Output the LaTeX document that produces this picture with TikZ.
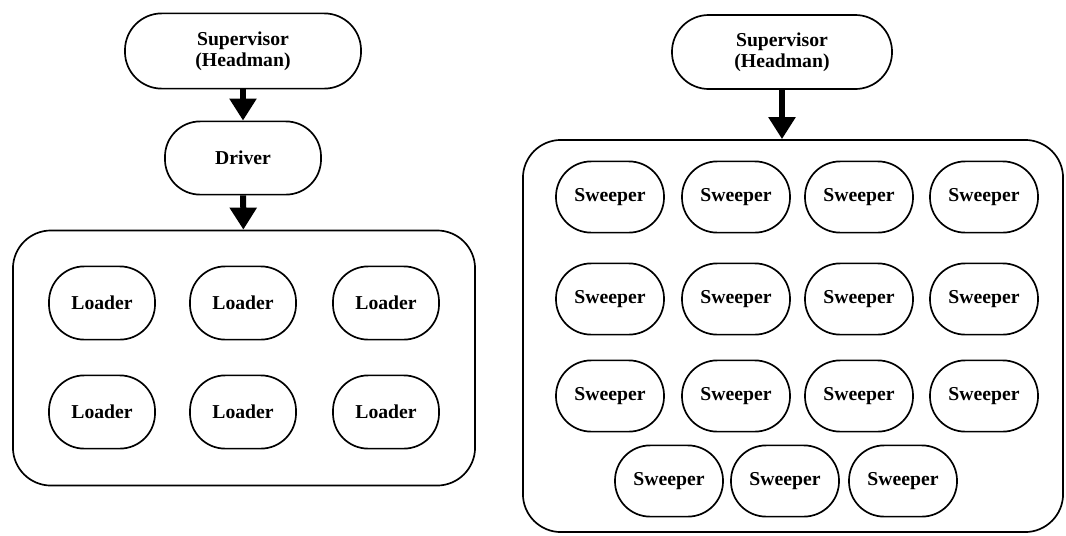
\documentclass[tikz,border=0pt]{standalone}
\usepackage{fontspec}
\setmainfont{Liberation Serif}
\usetikzlibrary{arrows.meta}
\tikzset{
  worker/.style={draw, line width=1.2pt, rounded corners=0.88cm, minimum width=2.7cm, minimum height=1.78cm, font=\fontsize{14}{15}\selectfont\bfseries},
  boss/.style={worker, align=center, rounded corners=0.92cm},
  group/.style={draw, line width=1.2pt, rounded corners=0.95cm},
  flow/.style={line width=0.15cm, -{Triangle[width=0.65cm,length=0.55cm]}}
}
\begin{document}
\begin{tikzpicture}[x=0.025cm,y=-0.025cm]
\useasboundingbox (0,0) rectangle (1066,535);
% left: loading gang
\node[boss, minimum width=5.9cm, minimum height=1.88cm] (supL) at (243,51) {Supervisor\\(Headman)};
\node[worker, minimum width=3.9cm, minimum height=1.83cm] (drv) at (243,158) {Driver};
\node[group, minimum width=11.55cm, minimum height=6.375cm] (gangL) at (244,358) {};
\foreach \c [count=\i] in {102,243,386}{
  \node[worker, minimum width=2.65cm, minimum height=1.83cm] (ldA\i) at (\c,303) {Loader};
  \node[worker, minimum width=2.65cm, minimum height=1.83cm] (ldB\i) at (\c,412) {Loader};
}
\draw[flow] (supL) -- (drv);
\draw[flow] (drv) -- (gangL);
% right: sweeping gang
\node[boss, minimum width=5.5cm, minimum height=1.85cm] (supR) at (782,52) {Supervisor\\(Headman)};
\node[group, minimum width=13.5cm, minimum height=9.8cm] (gangR) at (793,336) {};
\foreach \r/\y in {A/197,B/299,C/396}
  \foreach \c [count=\i] in {610,736,859,984}
    \node[worker] (sw\r\i) at (\c,\y) {Sweeper};
\foreach \c [count=\i] in {669,785,903}
  \node[worker] (swD\i) at (\c,481) {Sweeper};
\draw[flow] (supR) -- (supR |- gangR.north);
\end{tikzpicture}
\end{document}
